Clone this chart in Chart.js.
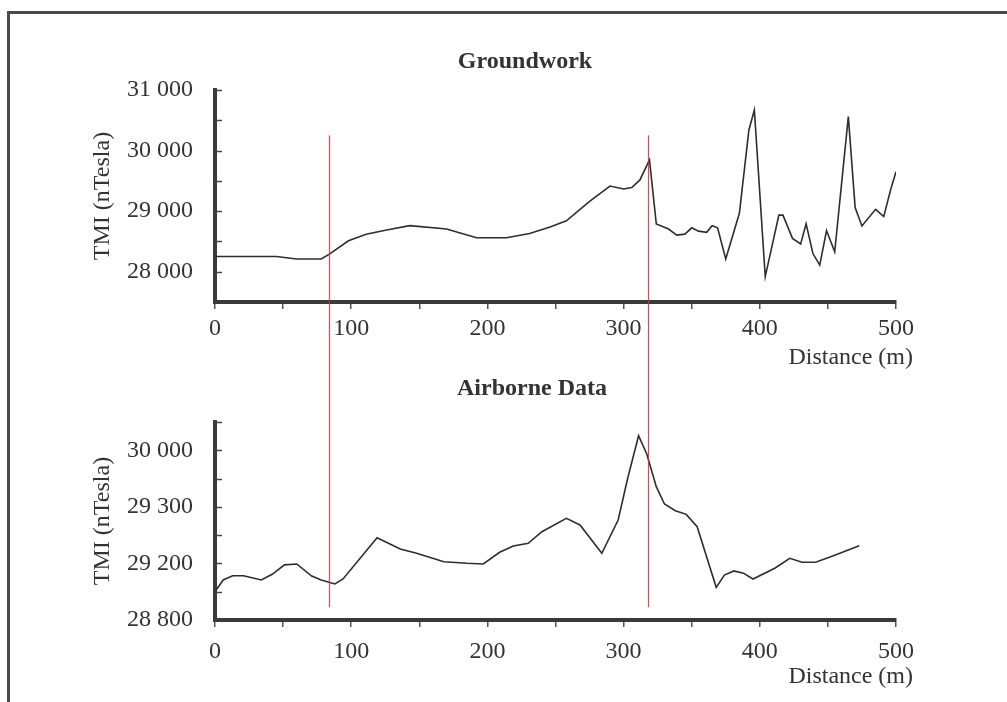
<!DOCTYPE html>
<html>
<head>
<meta charset="utf-8">
<title>TMI profiles</title>
<script src="https://cdn.jsdelivr.net/npm/chart.js@4.4.1/dist/chart.umd.min.js"></script>
<style>
  html, body { margin: 0; padding: 0; background: #fff; overflow: hidden; }
  .frame {
    position: absolute; left: 7px; top: 11px; width: 1100px; height: 800px;
    border-left: 3px solid #4a4a4a; border-top: 3px solid #4a4a4a;
  }
  #groundChart { position: absolute; left: 0; top: 0; }
  #airChart { position: absolute; left: 0; top: 376px; }
</style>
</head>
<body>
<div class="frame"></div>
<canvas id="groundChart" width="1007" height="376"></canvas>
<canvas id="airChart" width="1007" height="326"></canvas>
<script>
// Groundwork profile
const distGround = [0, 45, 60, 78, 84, 98, 111, 126, 143, 170, 192, 214, 231, 246, 258, 275, 290, 300, 306, 312, 319,
  324, 333, 339, 345, 350, 355, 361, 365, 369, 375, 385, 392, 396, 404, 414, 417, 424, 430, 434, 439, 444, 449, 455,
  465, 470, 475, 485, 491, 496, 500];
const tmiGround = [28250, 28250, 28210, 28210, 28290, 28510, 28620, 28690, 28760, 28705, 28560, 28560, 28630, 28740,
  28840, 29160, 29415, 29365, 29390, 29515, 29845, 28790, 28705, 28605, 28620, 28725, 28670, 28650, 28760, 28725,
  28210, 28965, 30340, 30670, 27920, 28935, 28935, 28550, 28460, 28790, 28300, 28110, 28680, 28330, 30560, 29060,
  28755, 29030, 28910, 29350, 29650];

// Airborne profile
const distAir = [0, 6, 13, 21, 34, 42, 51, 60, 71, 78, 88, 94, 119, 136, 148, 168, 185, 197, 209, 219, 230, 240, 258,
  268, 284, 296, 303, 311, 317, 324, 330, 338, 346, 354, 368, 374, 381, 388, 395, 411, 422, 431, 441, 454, 473];
const tmiAir = [29000, 29083, 29113, 29113, 29083, 29123, 29190, 29196, 29111, 29083, 29055, 29090, 29382, 29302,
  29272, 29212, 29201, 29196, 29279, 29323, 29342, 29424, 29519, 29472, 29272, 29507, 29802, 30103, 29974, 29743,
  29620, 29573, 29547, 29460, 29031, 29118, 29147, 29131, 29090, 29166, 29236, 29208, 29208, 29255, 29325];

// Vertical markers (distance, m)
const markers = [84, 318];

// Tick labels
const groundTickValues = [28000, 29000, 30000, 31000];
const groundTickLabels = ['28 000', '29 000', '30 000', '31 000'];
const airTickValues = [28800, 29200, 29600, 30000];
const airTickLabels = ['28 800', '29 200', '29 300', '30 000'];

Chart.defaults.font.family = '"Liberation Serif", "Times New Roman", serif';
Chart.defaults.font.size = 24;
Chart.defaults.color = '#333';

// Inward y ticks, red markers, panel title and distance label
const profileExtras = {
  id: 'profileExtras',
  afterDatasetsDraw(chart, args, opts) {
    const { ctx, chartArea, scales: { x, y } } = chart;
    ctx.save();

    ctx.strokeStyle = '#444';
    ctx.lineWidth = 1.5;
    y.ticks.forEach(t => {
      const py = Math.round(y.getPixelForValue(t.value)) + 0.5;
      if (Math.abs(py - chartArea.bottom) < 3) return;
      ctx.beginPath();
      ctx.moveTo(chartArea.left, py);
      ctx.lineTo(chartArea.left + 7, py);
      ctx.stroke();
    });

    ctx.strokeStyle = 'rgba(214, 40, 64, 0.85)';
    ctx.lineWidth = 1.2;
    const top = opts.markerFrom == null ? 0 : y.getPixelForValue(opts.markerFrom);
    const bottom = opts.markerTo == null ? chart.height : y.getPixelForValue(opts.markerTo);
    markers.forEach(m => {
      const px = Math.round(x.getPixelForValue(m)) + 0.5;
      ctx.beginPath();
      ctx.moveTo(px, top);
      ctx.lineTo(px, bottom);
      ctx.stroke();
    });

    ctx.fillStyle = '#333';
    ctx.textBaseline = 'middle';
    ctx.font = 'bold 24px "Liberation Serif"';
    ctx.textAlign = 'center';
    ctx.fillText(opts.title, opts.titleX, opts.titleY);
    ctx.font = '24px "Liberation Serif"';
    ctx.textAlign = 'right';
    ctx.fillText('Distance (m)', opts.xLabelRight, opts.xLabelY);
    ctx.restore();
  }
};

function distanceAxis(height, padding) {
  return {
    type: 'linear',
    min: 0,
    max: 500,
    afterFit: s => { s.height = height; },
    ticks: {
      stepSize: 50,
      autoSkip: false,
      maxRotation: 0,
      padding: padding,
      callback: v => (v % 100 === 0 ? String(v) : '')
    },
    grid: { display: true, drawOnChartArea: false, drawTicks: true, tickLength: 7, color: '#555', lineWidth: 1.5 },
    border: { display: true, width: 4, color: '#3a3a3a' }
  };
}

function tmiAxis(min, max, step, values, labels) {
  return {
    type: 'linear',
    min: min,
    max: max,
    afterFit: s => { s.width = 215; },
    ticks: {
      stepSize: step,
      autoSkip: false,
      padding: 14,
      callback: v => {
        const i = values.indexOf(v);
        return i >= 0 ? labels[i] : '';
      }
    },
    grid: { display: false },
    border: { display: true, width: 4, color: '#3a3a3a' },
    title: { display: true, text: 'TMI (nTesla)', color: '#333', font: { size: 24 }, padding: { top: 88, bottom: 0 } }
  };
}

function lineData(xs, ys) {
  return {
    datasets: [{
      data: xs.map((d, i) => ({ x: d, y: ys[i] })),
      borderColor: '#2e2e2e',
      borderWidth: 1.6,
      pointRadius: 0,
      tension: 0,
      fill: false
    }]
  };
}

new Chart(document.getElementById('groundChart'), {
  type: 'line',
  data: lineData(distGround, tmiGround),
  options: {
    responsive: false,
    animation: false,
    layout: { padding: { top: 90, right: 111, left: 0, bottom: 0 } },
    plugins: {
      legend: { display: false },
      tooltip: { enabled: false },
      profileExtras: {
        title: 'Groundwork', titleX: 525, titleY: 62,
        xLabelRight: 913, xLabelY: 358,
        markerFrom: 30250, markerTo: null
      }
    },
    scales: {
      x: distanceAxis(74, 5),
      y: tmiAxis(27500, 31000, 500, groundTickValues, groundTickLabels)
    }
  },
  plugins: [profileExtras]
});

new Chart(document.getElementById('airChart'), {
  type: 'line',
  data: lineData(distAir, tmiAir),
  options: {
    responsive: false,
    animation: false,
    layout: { padding: { top: 46, right: 111, left: 0, bottom: 0 } },
    plugins: {
      legend: { display: false },
      tooltip: { enabled: false },
      profileExtras: {
        title: 'Airborne Data', titleX: 532, titleY: 13,
        xLabelRight: 913, xLabelY: 301,
        markerFrom: null, markerTo: 28890
      }
    },
    scales: {
      x: distanceAxis(82, 10),
      y: tmiAxis(28800, 30200, 200, airTickValues, airTickLabels)
    }
  },
  plugins: [profileExtras]
});
</script>
</body>
</html>
